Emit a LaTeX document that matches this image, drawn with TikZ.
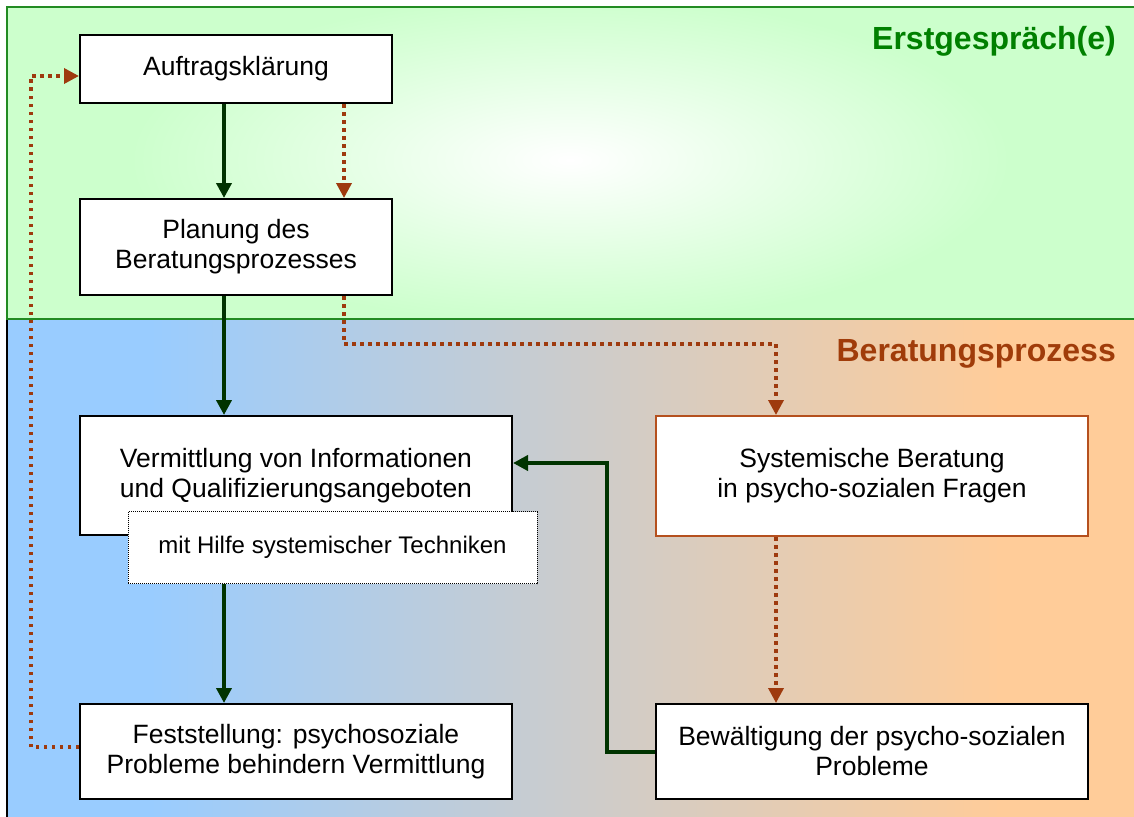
\documentclass[tikz,border=0pt]{standalone}
\usepackage{fontspec}
\setmainfont{Liberation Sans}
\usetikzlibrary{arrows.meta,calc}
\definecolor{panelg}{HTML}{CCFFCC}
\definecolor{panelborder}{HTML}{228B22}
\definecolor{lblue}{HTML}{99CCFF}
\definecolor{lorange}{HTML}{FFCC99}
\definecolor{darkg}{HTML}{003300}
\definecolor{rust}{HTML}{9E3A0E}
\definecolor{labgreen}{HTML}{008000}
\definecolor{labbrown}{HTML}{A03C0A}
\definecolor{sysborder}{HTML}{B5501E}
\begin{document}
\begin{tikzpicture}[x=1pt,y=-1pt,
  box/.style={draw=black, line width=2pt, fill=white, align=center,
    font=\fontsize{26.5}{30}\selectfont, inner sep=0pt},
  helpbox/.style={draw=black, line width=1pt, dash pattern=on 1pt off 1pt, fill=white,
    align=center, font=\fontsize{24}{28}\selectfont, inner sep=0pt},
  garrow/.style={draw=darkg, line width=4pt, -{Triangle[length=15pt,width=15pt]}},
  rarrow/.style={draw=rust, line width=3.5pt, dash pattern=on 3.5pt off 4.5pt,
    -{Triangle[length=15pt,width=15pt]}},
  phase/.style={font=\fontsize{32}{38}\selectfont\bfseries, inner sep=0pt, anchor=base east}
]
\useasboundingbox (0,0) rectangle (1134,816);
\fill[white] (0,0) rectangle (1134,816);

% bottom panel
\fill[lblue] (7,319) rectangle (150,820);
\shade[left color=lblue, right color=lorange] (149.5,319) rectangle (1000.5,820);
\fill[lorange] (1000,319) rectangle (1140,820);
\draw[black, line width=2pt] (7,319) -- (7,820);

% top panel
\fill[panelg] (7,7) rectangle (1140,319);
\begin{scope}
  \clip (7,7) rectangle (1140,319);
  \shade[inner color=white, outer color=panelg] (570,160) ellipse [x radius=440, y radius=165];
\end{scope}
\draw[panelborder, line width=2pt] (1140,7) -- (7,7) -- (7,319) -- (1140,319);

% phase labels
\node[phase, text=labgreen] (t1) at (1116,50) {Erstgespräch(e)};
\node[phase, text=labbrown] (t2) at (1116,361) {Beratungsprozess};

% boxes
\node[box, minimum width=312pt, minimum height=68pt] (auf) at (236,69) {Auftragsklärung};
\node[box, minimum width=312pt, minimum height=96pt] (pl) at (236,247) {Planung des\\Beratungsprozesses};
\node[box, minimum width=432pt, minimum height=119pt] (verm) at (296,475.5) {Vermittlung von Informationen\\und Qualifizierungsangeboten};
\node[helpbox, minimum width=409pt, minimum height=72pt] (mit) at (332.5,547.5) {mit Hilfe systemischer Techniken};
\node[box, draw=sysborder, minimum width=432pt, minimum height=120pt] (sys) at (872,476) {Systemische Beratung\\in psycho-sozialen Fragen};
\node[box, minimum width=432pt, minimum height=95pt] (fest) at (296,751.5) {Feststellung: psychosoziale\\Probleme behindern Vermittlung};
\node[box, minimum width=432pt, minimum height=95pt] (bew) at (872,751.5) {Bewältigung der psycho-sozialen\\Probleme};

% connectors
\draw[garrow] ([xshift=-12pt]auf.south) -- ([xshift=-12pt]pl.north);
\draw[rarrow] ([xshift=108pt]auf.south) -- ([xshift=108pt]pl.north);
\draw[garrow] ([xshift=-12pt]pl.south) -- ([xshift=-72pt]verm.north);
\draw[rarrow] ([xshift=108pt]pl.south) -- ++(0,48) -| ([xshift=-96pt]sys.north);
\coordinate (c1) at ([xshift=-72pt]fest.north);
\draw[garrow] (c1 |- mit.south) -- (c1);
\draw[rarrow] ([xshift=-96pt]sys.south) -- ([xshift=-96pt]bew.north);
\draw[garrow] (bew.west) -- ++(-48,0) |- ([yshift=12.5pt]verm.east);
\draw[rarrow] ([yshift=4.5pt]fest.west) -- ++(-48,0) |- ([yshift=-7pt]auf.west);
\end{tikzpicture}
\end{document}
